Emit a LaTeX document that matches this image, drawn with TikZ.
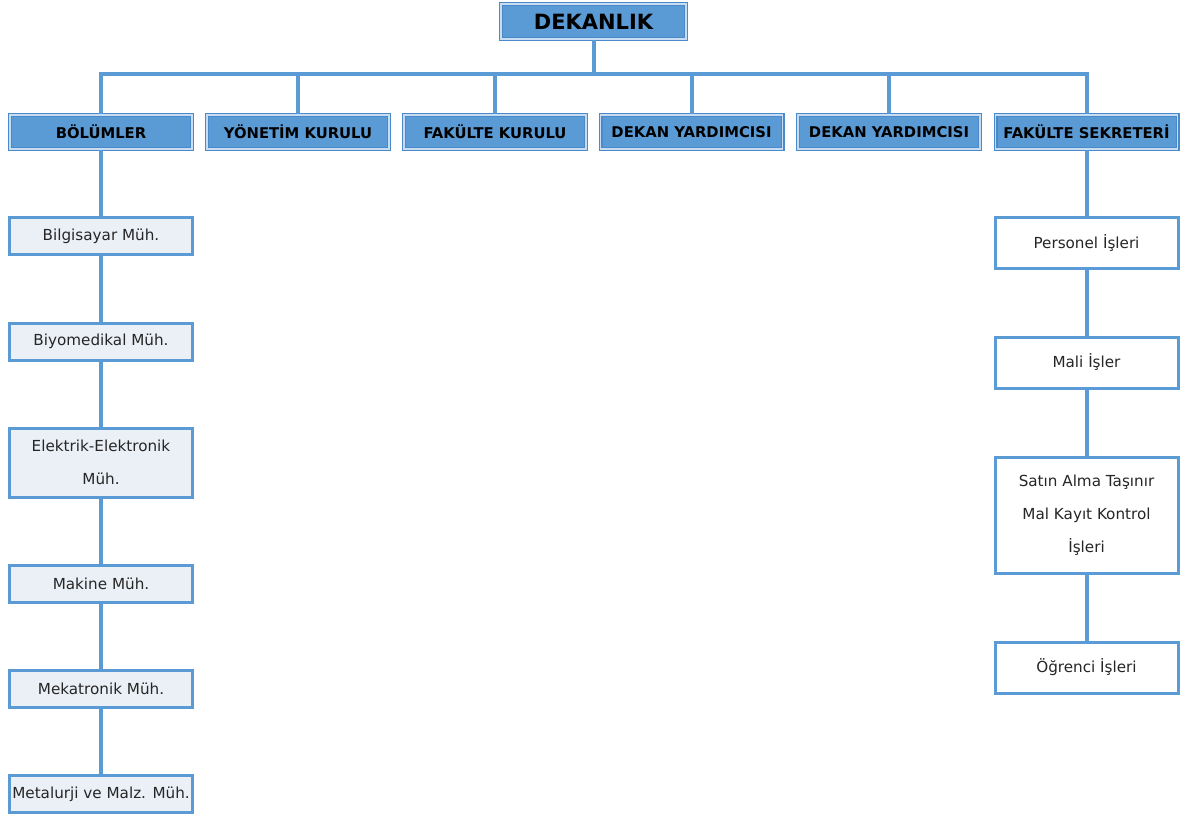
\documentclass[tikz,border=0pt]{standalone}
\usepackage{fontspec}
\setmainfont{DejaVu Sans}
\definecolor{lineblue}{HTML}{5B9BD5}
\definecolor{boxfill}{HTML}{5B9BD5}
\definecolor{edgeblue}{HTML}{4A8ACB}
\definecolor{innerline}{HTML}{C9DDF2}
\definecolor{paleblue}{HTML}{EBF0F6}
\definecolor{txt}{HTML}{262626}
\tikzset{
  conn/.style={draw=lineblue, line width=4pt},
  headbox/.style={draw=edgeblue, line width=1.4pt, double=innerline, double distance=1.2pt, fill=boxfill, inner sep=0pt, text=black, font=\fontsize{14.8}{17}\selectfont\bfseries, minimum width=182pt, minimum height=34pt},
  deanbox/.style={headbox, font=\fontsize{21}{24}\selectfont\bfseries, minimum width=185pt, minimum height=35pt},
  deptbox/.style={draw=lineblue, line width=3pt, fill=paleblue, inner sep=0pt, text=txt, font=\fontsize{15.2}{33}\selectfont, align=center, minimum width=183pt, minimum height=37pt},
  unitbox/.style={deptbox, fill=white, minimum height=51pt},
}
\begin{document}
\begin{tikzpicture}[x=1pt,y=-1pt]
\path[use as bounding box] (0,0) rectangle (1194,821);
% dean
\node[deanbox] (dek) at (593.5,21.5) {DEKANLIK};
% top level
\node[headbox] (bol) at (101,132) {BÖLÜMLER};
\node[headbox] (yon) at (298,132) {YÖNETİM KURULU};
\node[headbox] (fak) at (495,132) {FAKÜLTE KURULU};
\node[headbox] (dy1) at (691.5,132) {DEKAN YARDIMCISI};
\node[headbox] (dy2) at (889,132) {DEKAN YARDIMCISI};
\node[headbox] (sek) at (1086.5,132) {FAKÜLTE SEKRETERİ};
% departments
\node[deptbox] (bil) at (101,236) {Bilgisayar Müh.};
\node[deptbox] (biy) at (101,341.5) {Biyomedikal Müh.};
\node[deptbox, minimum height=69pt] (ele) at (101,462.5) {Elektrik-Elektronik\\Müh.};
\node[deptbox] (mak) at (101,584) {Makine Müh.};
\node[deptbox] (mek) at (101,689) {Mekatronik Müh.};
\node[deptbox] (met) at (101,794) {Metalurji ve Malz. Müh.};
% secretary units
\node[unitbox] (per) at (1086.5,243) {Personel İşleri};
\node[unitbox] (mal) at (1086.5,362.5) {Mali İşler};
\node[unitbox, minimum height=116pt] (sat) at (1086.5,515) {Satın Alma Taşınır\\Mal Kayıt Kontrol\\İşleri};
\node[unitbox] (ogr) at (1086.5,667.5) {Öğrenci İşleri};
% bus
\coordinate (bus) at (593.5,74);
\draw[conn] (dek.south) -- (bus);
\draw[conn, line join=miter] (bol.north) -- (bol.north |- bus) -- (sek.north |- bus) -- (sek.north);
\foreach \n in {yon,fak,dy1,dy2}{
  \draw[conn] (\n.north) -- (\n.north |- bus);
}
\draw[conn] (bol.south) -- (bil.north);
\draw[conn] (bil.south) -- (biy.north);
\draw[conn] (biy.south) -- (ele.north);
\draw[conn] (ele.south) -- (mak.north);
\draw[conn] (mak.south) -- (mek.north);
\draw[conn] (mek.south) -- (met.north);
\draw[conn] (sek.south) -- (per.north);
\draw[conn] (per.south) -- (mal.north);
\draw[conn] (mal.south) -- (sat.north);
\draw[conn] (sat.south) -- (ogr.north);
\end{tikzpicture}
\end{document}
